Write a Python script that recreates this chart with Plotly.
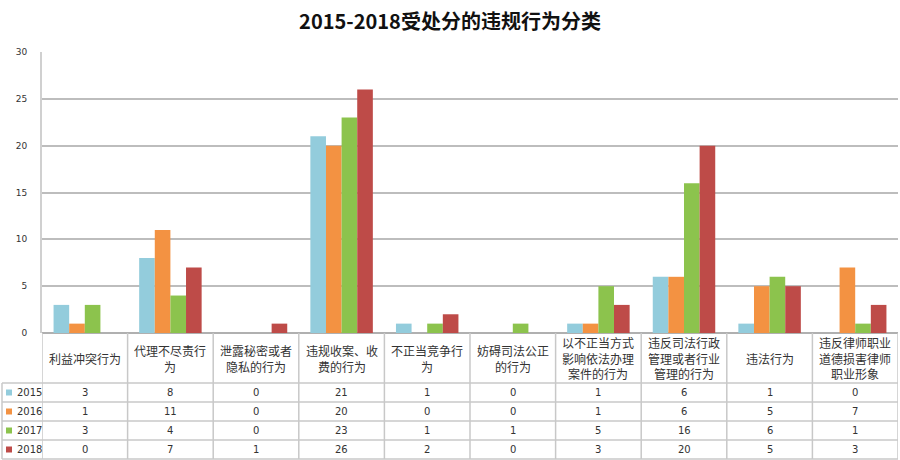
import plotly.graph_objects as go

categories = [
    "利益冲突行为",
    "代理不尽责行<br>为",
    "泄露秘密或者<br>隐私的行为",
    "违规收案、收<br>费的行为",
    "不正当竞争行<br>为",
    "妨碍司法公正<br>的行为",
    "以不正当方式<br>影响依法办理<br>案件的行为",
    "违反司法行政<br>管理或者行业<br>管理的行为",
    "违法行为",
    "违反律师职业<br>道德损害律师<br>职业形象",
]
years = ["2015", "2016", "2017", "2018"]
v2015 = [3, 8, 0, 21, 1, 0, 1, 6, 1, 0]
v2016 = [1, 11, 0, 20, 0, 0, 1, 6, 5, 7]
v2017 = [3, 4, 0, 23, 1, 1, 5, 16, 6, 1]
v2018 = [0, 7, 1, 26, 2, 0, 3, 20, 5, 3]
series = [v2015, v2016, v2017, v2018]
colors = ["#93CCDC", "#F39242", "#8CC34D", "#BE4B48"]
title = "2015-2018受处分的违规行为分类"

W, H = 900, 460
L, R, T, B = 42, 2, 52, 127
PH = H - T - B
PW = W - L - R


def py(p):
    return (H - B - p) / PH


def px(p):
    return (p - L) / PW


xs = list(range(len(categories)))
fig = go.Figure()
for name, vals, c in zip(years, series, colors):
    fig.add_trace(go.Bar(x=xs, y=vals, name=name, marker_color=c,
                         marker_line_width=0, showlegend=False))

shapes = []
annotations = []
grey = "#BDBDBD"
# vertical lines in table
for k in range(len(categories) + 1):
    shapes.append(dict(type="line", xref="x", yref="paper", x0=k - 0.5, x1=k - 0.5,
                       y0=0, y1=py(459), line=dict(color="#C8C8C8", width=1.5)))
# horizontal lines
for rowy in [383, 402, 421, 440, 459]:
    shapes.append(dict(type="line", xref="paper", yref="paper", x0=px(2), x1=1,
                       y0=py(rowy), y1=py(rowy), line=dict(color="#C8C8C8", width=1.5)))
shapes.append(dict(type="line", xref="paper", yref="paper", x0=px(2), x1=px(2),
                   y0=py(383), y1=py(459), line=dict(color="#C8C8C8", width=1.5)))

# category labels
for i, cat in enumerate(categories):
    annotations.append(dict(xref="x", yref="paper", x=i, y=py(358), text=cat,
                            showarrow=False, xanchor="center", yanchor="middle",
                            font=dict(family="Noto Sans CJK SC", size=12, color="#333333")))

row_centers = [392.5, 411.5, 430.5, 449.5]
for r, (name, vals, c) in enumerate(zip(years, series, colors)):
    yc = py(row_centers[r])
    shapes.append(dict(type="rect", xref="paper", yref="paper",
                       x0=px(6), x1=px(12), y0=py(row_centers[r] - 3), y1=py(row_centers[r] + 3),
                       fillcolor=c, line=dict(width=0)))
    annotations.append(dict(xref="paper", yref="paper", x=px(15), y=yc, text=name,
                            showarrow=False, xanchor="left", yanchor="middle",
                            font=dict(family="DejaVu Sans", size=10, color="#333333")))
    for i, v in enumerate(vals):
        annotations.append(dict(xref="x", yref="paper", x=i, y=yc, text=str(v),
                                showarrow=False, xanchor="center", yanchor="middle",
                                font=dict(family="DejaVu Sans", size=10, color="#333333")))

fig.update_layout(
    width=W, height=H,
    margin=dict(l=L, r=R, t=T, b=B),
    paper_bgcolor="white", plot_bgcolor="white",
    barmode="group", bargap=0.27, bargroupgap=0,
    title=dict(text="<b>" + title + "</b>", x=0.5, xanchor="center", y=1 - 22 / H,
               yanchor="middle", yref="container",
               font=dict(family="Noto Sans CJK SC", size=20, color="#111111")),
    xaxis=dict(range=[-0.5, len(categories) - 0.5], showticklabels=False, showgrid=False,
               zeroline=False, showline=False, fixedrange=True),
    yaxis=dict(range=[0, 30], dtick=5, showgrid=True, gridcolor=grey, gridwidth=2,
               zeroline=True, zerolinecolor="#B0B0B0", zerolinewidth=2,
               showline=True, linecolor="#D0D0D0", linewidth=2,
               tickfont=dict(family="DejaVu Sans", size=9, color="#333333"),
               ticklabelstandoff=11),
    shapes=shapes, annotations=annotations,
    font=dict(family="Noto Sans CJK SC"),
)
fig.write_html("out.html")
